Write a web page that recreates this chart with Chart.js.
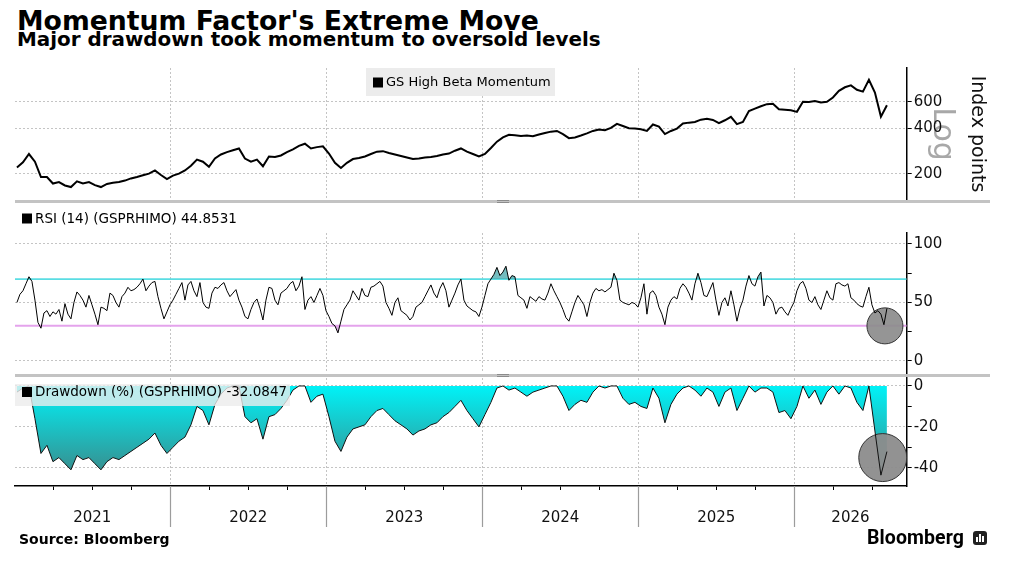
<!DOCTYPE html>
<html>
<head>
<meta charset="utf-8">
<script src="https://cdn.jsdelivr.net/npm/chart.js@4.4.1/dist/chart.umd.min.js"></script>
<style>
  html, body { margin: 0; padding: 0; background: #fff; }
  body { width: 1010px; height: 561px; position: relative; overflow: hidden; font-family: 'DejaVu Sans', sans-serif; color: #000; }
  .title { position: absolute; left: 17px; top: 5px; font-weight: bold; font-size: 26.7px; white-space: nowrap; }
  .subtitle { position: absolute; left: 17px; top: 28px; font-weight: bold; font-size: 19.9px; white-space: nowrap; }
  canvas { position: absolute; left: 0; }
  .sep { position: absolute; left: 15px; width: 975px; height: 3px; background: #c3c3c3; }
  .grip { position: absolute; left: 497px; width: 12px; height: 1px; border-top: 1px solid #8c8c8c; border-bottom: 1px solid #8c8c8c; }
  .source { position: absolute; left: 19px; top: 531px; font-weight: bold; font-size: 14px; }
  .brand { position: absolute; left: 867px; top: 526px; font-family: Roboto, sans-serif; font-weight: 700; font-size: 19.5px; letter-spacing: 0.1px; }
  .icon { position: absolute; left: 973px; top: 531px; width: 14px; height: 14px; background: #222; border-radius: 3px; }
  .icon i { position: absolute; bottom: 3px; width: 2px; background: #fff; }
</style>
</head>
<body>
<div class="title">Momentum Factor's Extreme Move</div>
<div class="subtitle">Major drawdown took momentum to oversold levels</div>

<canvas id="priceChart" width="1010" height="142" style="top:60px"></canvas>
<div class="sep" style="top:200px"></div>
<div class="grip" style="top:200px"></div>
<canvas id="rsiChart" width="1010" height="173" style="top:202px"></canvas>
<div class="sep" style="top:374px"></div>
<div class="grip" style="top:374px"></div>
<canvas id="ddChart" width="1010" height="185" style="top:376px"></canvas>

<div class="source">Source: Bloomberg</div>
<div class="brand">Bloomberg</div>
<div class="icon"><i style="left:3px;height:5px"></i><i style="left:6px;height:8px"></i><i style="left:9px;height:6px"></i></div>

<script>
// x values are decimal years; price and drawdown every 2 weeks, RSI weekly
const seriesStart = 2021.017
const biweekly = 0.03846
const weekly = 0.01923
const axisStart = 2021.0045
const axisEnd = 2026.7205

const yearBreaks = [2022, 2023, 2024, 2025, 2026]
const yearLabels = ['2021', '2022', '2023', '2024', '2025', '2026']
const yearLabelPos = [2021.5, 2022.5, 2023.5, 2024.5, 2025.5, 2026.36]

const priceTicks = [200, 400, 600]
const rsiTicks = [0, 25, 50, 75, 100]
const rsiLevels = [70, 30]
const ddTicks = [-40, -30, -20, -10, 0]

// GS High Beta Momentum, index points
const price = [
  220, 238, 270, 240, 190, 190, 172, 176, 167, 163,
  178, 172, 176, 168, 163, 171, 174, 176, 180, 186,
  190, 195, 200, 210, 196, 184, 194, 200, 210, 226,
  248, 240, 222, 252, 268, 278, 286, 294, 252, 240,
  248, 224, 260, 258, 264, 278, 290, 306, 316, 294,
  300, 304, 272, 236, 218, 236, 250, 254, 260, 270,
  280, 282, 274, 268, 262, 256, 250, 252, 256, 258,
  262, 268, 272, 284, 294, 280, 270, 260, 270, 296,
  326, 348, 362, 360, 356, 358, 354, 364, 372, 380,
  384, 366, 344, 348, 358, 370, 384, 392, 388, 402,
  428, 414, 400, 398, 394, 384, 424, 410, 366, 384,
  398, 430, 436, 440, 456, 462, 454, 432, 452, 476,
  426, 440, 520, 540, 560, 578, 582, 534, 530, 526,
  514, 600, 598, 606, 594, 600, 640, 708, 748, 770,
  720, 700, 838, 690, 478, 569
]

// RSI (14)
const rsi = [
  50, 57, 60, 66, 72, 68, 52, 33, 28, 41, 43, 38, 42, 40, 44,
  34, 49, 40, 36, 50, 59, 56, 52, 46, 56, 48, 40, 31, 46, 45,
  43, 58, 56, 50, 46, 55, 58, 63, 60, 61, 63, 66, 70, 60, 64,
  67, 68, 55, 45, 36, 42, 48, 52, 57, 62, 67, 52, 65, 68, 60,
  55, 67, 50, 46, 45, 58, 63, 62, 65, 67, 60, 55, 58, 61, 52,
  46, 38, 36, 44, 50, 53, 45, 35, 52, 63, 62, 52, 48, 58, 60,
  62, 66, 68, 60, 64, 72, 44, 52, 55, 50, 56, 62, 56, 43, 38,
  32, 30, 24, 34, 44, 48, 52, 60, 56, 52, 62, 56, 55, 63, 64,
  66, 68, 64, 50, 45, 39, 50, 54, 43, 41, 39, 35, 38, 46, 48,
  50, 55, 60, 65, 58, 54, 62, 67, 60, 46, 52, 58, 65, 70, 52,
  47, 45, 43, 42, 38, 46, 56, 66, 70, 74, 80, 73, 76, 81, 69,
  73, 72, 56, 54, 52, 45, 55, 53, 51, 55, 53, 52, 58, 66, 60,
  55, 50, 44, 37, 34, 42, 50, 56, 52, 48, 38, 50, 58, 62, 60,
  61, 59, 61, 63, 75, 69, 52, 50, 49, 48, 50, 49, 46, 54, 66,
  40, 58, 60, 56, 46, 40, 31, 46, 52, 55, 53, 62, 66, 63, 58,
  52, 66, 75, 67, 56, 55, 61, 67, 52, 39, 50, 54, 47, 60, 48,
  34, 45, 52, 64, 73, 66, 64, 72, 76, 47, 56, 54, 50, 40, 45,
  46, 42, 39, 45, 50, 60, 66, 68, 62, 52, 50, 55, 48, 44, 52,
  60, 54, 52, 66, 67, 65, 64, 66, 54, 52, 49, 47, 46, 55, 63,
  48, 41, 43, 40, 31, 44.8531
]

// Drawdown (%)
const drawdown = [
  -3, -1, 0, -16, -33, -29, -37, -35, -38, -41,
  -34, -36, -35, -38, -41, -37, -35, -36, -34, -32,
  -30, -28, -26, -23, -29, -33, -30, -27, -25, -19,
  -10, -12, -19, -9, -4, -1, 0, 0, -15, -18,
  -16, -26, -15, -14, -11, -7, -2, 0, 0, -8,
  -5, -4, -15, -27, -32, -25, -21, -20, -19, -15,
  -12, -11, -14, -17, -19, -21, -24, -22, -21, -19,
  -18, -15, -13, -10, -7, -12, -16, -20, -14, -8,
  -1, 0, -2, -1, -3, -5, -3, -2, -1, 0,
  0, -5, -12, -9, -7, -8, -3, 0, -1, 0,
  0, -6, -9, -8, -10, -11, -1, -6, -18, -9,
  -4, -1, 0, -2, -5, -1, -3, -10, -3, -1,
  -12, -6, 0, -3, -1, -1, -3, -13, -12, -16,
  -10, 0, -6, -2, -9, -3, 0, -4, 0, -1,
  -8, -12, 0, -22, -43.6, -32.0847
]

// highlighted oversold spots [x, y]
const rsiCircle = [2026.581, 30]
const ddCircle = [2026.567, -35]

const GRID = '#c4c4c4'
const toPoints = (vals, step) => vals.map((v, i) => ({ x: seriesStart + i * step, y: v }))

Chart.defaults.font.family = "'DejaVu Sans', sans-serif"
Chart.defaults.color = '#111'
Chart.defaults.animation = false
Chart.defaults.events = []
Chart.defaults.plugins.legend.display = false
Chart.defaults.plugins.tooltip.enabled = false

function rightAxis(scale) {
  scale.width = 1010 - 906.7
  scale.paddingTop = 0
  scale.paddingBottom = 0
}

function yearGrid() {
  return {
    type: 'linear',
    min: axisStart,
    max: axisEnd,
    afterBuildTicks: (s) => { s.ticks = yearBreaks.map((v) => ({ value: v })) },
    ticks: { display: false },
    grid: { color: GRID, drawTicks: false },
    border: { display: false, dash: [2, 2] },
    afterFit: (s) => { s.height = 0; s.paddingLeft = 0; s.paddingRight = 0 },
  }
}

function legendBox(cfg) {
  return {
    id: 'legendBox',
    afterDraw(chart) {
      const c = chart.ctx
      c.save()
      if (cfg.box) {
        c.fillStyle = cfg.bg
        c.fillRect(cfg.box[0], cfg.box[1], cfg.box[2], cfg.box[3])
      }
      c.fillStyle = '#000'
      c.fillRect(cfg.at[0], cfg.at[1] - 5, 10, 10)
      c.font = (cfg.size || 13.5) + "px 'DejaVu Sans'"
      c.textBaseline = 'middle'
      c.fillText(cfg.text, cfg.at[0] + 13, cfg.at[1] + 0.5)
      c.restore()
    },
  }
}

const logLabel = {
  id: 'logLabel',
  beforeDraw(chart) {
    const { ctx, chartArea } = chart
    ctx.save()
    ctx.translate(chartArea.right + 35, (chartArea.top + chartArea.bottom) / 2)
    ctx.rotate(Math.PI / 2)
    ctx.font = "30px 'DejaVu Sans'"
    ctx.fillStyle = '#a8a8a8'
    ctx.textAlign = 'center'
    ctx.textBaseline = 'middle'
    ctx.fillText('Log', 0, 0)
    ctx.restore()
  },
}

const yearDividers = {
  id: 'yearDividers',
  afterDraw(chart) {
    const { ctx, chartArea, scales } = chart
    ctx.save()
    ctx.strokeStyle = '#9c9c9c'
    ctx.lineWidth = 1.2
    yearBreaks.forEach((yr) => {
      const px = Math.round(scales.x.getPixelForValue(yr)) + 0.5
      ctx.beginPath()
      ctx.moveTo(px, chartArea.bottom)
      ctx.lineTo(px, chartArea.bottom + 41)
      ctx.stroke()
    })
    ctx.restore()
  },
}

// price panel
new Chart(document.getElementById('priceChart'), {
  type: 'line',
  data: {
    datasets: [
      { data: toPoints(price, biweekly), borderColor: '#000', borderWidth: 2, pointRadius: 0 },
    ],
  },
  options: {
    responsive: false,
    layout: { autoPadding: false, padding: { left: 15, top: 8, right: 0, bottom: 2 } },
    scales: {
      x: yearGrid(),
      y: {
        type: 'logarithmic',
        position: 'right',
        min: 133.8,
        max: 1004,
        afterBuildTicks: (s) => { s.ticks = priceTicks.map((v) => ({ value: v })) },
        ticks: { callback: (v) => String(v), font: { size: 15 }, padding: 2, autoSkip: false },
        grid: { color: GRID, tickColor: '#000', tickLength: 5 },
        border: { color: '#000', width: 1.5, dash: [2, 2] },
        title: { display: true, text: 'Index points', font: { size: 19 }, padding: { top: 22, bottom: 0 } },
        afterFit: rightAxis,
      },
    },
  },
  plugins: [logLabel, legendBox({ text: 'GS High Beta Momentum', size: 13, box: [366, 8, 189, 28], bg: '#ececec', at: [373, 22.5] })],
})

// RSI panel
const rsiPoints = toPoints(rsi, weekly)
const levelLine = (lvl) => [{ x: axisStart, y: lvl }, { x: axisEnd, y: lvl }]

new Chart(document.getElementById('rsiChart'), {
  type: 'line',
  data: {
    datasets: [
      {
        data: rsiPoints, borderColor: '#000', borderWidth: 1, pointRadius: 0, order: 1,
        fill: { target: { value: rsiLevels[0] }, above: 'rgba(70,165,170,0.75)', below: 'transparent' },
      },
      {
        data: rsiPoints, borderColor: 'transparent', borderWidth: 0, pointRadius: 0, order: 5,
        fill: { target: { value: rsiLevels[1] }, above: 'transparent', below: 'rgba(190,120,205,0.6)' },
      },
      { data: levelLine(rsiLevels[0]), borderColor: '#5adde3', borderWidth: 1.6, pointRadius: 0, order: 4 },
      { data: levelLine(rsiLevels[1]), borderColor: '#e4a3ec', borderWidth: 2, pointRadius: 0, order: 4 },
      {
        type: 'bubble', order: 2,
        data: [{ x: rsiCircle[0], y: rsiCircle[1], r: 18 }],
        backgroundColor: 'rgba(140,140,140,0.92)', borderColor: '#333', borderWidth: 1,
      },
    ],
  },
  options: {
    responsive: false,
    layout: { autoPadding: false, padding: { left: 15, top: 31, right: 0, bottom: 2 } },
    scales: {
      x: yearGrid(),
      y: {
        position: 'right',
        min: -10.3,
        max: 109.4,
        afterBuildTicks: (s) => { s.ticks = rsiTicks.map((v) => ({ value: v })) },
        ticks: { callback: (v) => (v % 50 === 0 ? String(v) : ''), font: { size: 15 }, padding: 2, autoSkip: false },
        grid: {
          color: (ctx) => (ctx.tick && ctx.tick.value % 50 === 0 ? GRID : 'transparent'),
          tickColor: '#000', tickLength: 5,
        },
        border: { color: '#000', width: 1.5, dash: [2, 2] },
        afterFit: rightAxis,
      },
    },
  },
  plugins: [legendBox({ text: 'RSI (14) (GSPRHIMO) 44.8531', at: [22, 16.5] })],
})

// drawdown panel
const ddPoints = toPoints(drawdown, biweekly)
const quarterTicks = []
for (let k = 1; k <= 22; k++) quarterTicks.push(2021 + k * 0.25)

new Chart(document.getElementById('ddChart'), {
  type: 'line',
  data: {
    datasets: [
      {
        data: ddPoints, borderColor: 'transparent', borderWidth: 0, pointRadius: 0, order: 5, fill: 'origin',
        backgroundColor: (ctx) => {
          const { chart } = ctx
          if (!chart.chartArea) return '#00e8ee'
          const y = chart.scales.y
          const g = chart.ctx.createLinearGradient(0, y.getPixelForValue(0), 0, y.getPixelForValue(-44))
          g.addColorStop(0, '#00f2f7')
          g.addColorStop(1, '#3a8a8a')
          return g
        },
      },
      {
        type: 'bubble', order: 2,
        data: [{ x: ddCircle[0], y: ddCircle[1], r: 24 }],
        backgroundColor: 'rgba(140,140,140,0.95)', borderColor: '#333', borderWidth: 1,
      },
      { data: ddPoints, borderColor: '#111', borderWidth: 1, pointRadius: 0, fill: false, order: 1 },
    ],
  },
  options: {
    responsive: false,
    layout: { autoPadding: false, padding: { left: 15, top: 2, right: 0, bottom: 0 } },
    scales: {
      x: {
        type: 'linear',
        min: axisStart,
        max: axisEnd,
        afterBuildTicks: (s) => {
          s.ticks = quarterTicks.concat([yearLabelPos[5]]).sort((a, b) => a - b).map((v) => ({ value: v }))
        },
        ticks: {
          callback: (v) => { const i = yearLabelPos.indexOf(v); return i >= 0 ? yearLabels[i] : '' },
          font: { size: 15 }, padding: 19, autoSkip: false, maxRotation: 0, color: '#111',
        },
        grid: {
          color: (ctx) => (ctx.tick && Number.isInteger(ctx.tick.value) ? GRID : 'transparent'),
          tickColor: (ctx) => {
            const v = ctx.tick ? ctx.tick.value : 0
            return Number.isInteger(v) || v === yearLabelPos[5] ? 'transparent' : '#000'
          },
          tickLength: 4,
        },
        border: { color: '#000', width: 1.5, dash: [2, 2] },
        afterFit: (s) => { s.height = 75; s.paddingLeft = 0; s.paddingRight = 0 },
      },
      y: {
        position: 'right',
        min: -48.9,
        max: 3.9,
        afterBuildTicks: (s) => { s.ticks = ddTicks.map((v) => ({ value: v })) },
        ticks: { callback: (v) => (v % 20 === 0 ? String(v) : ''), font: { size: 15 }, padding: 2, autoSkip: false },
        grid: {
          color: (ctx) => (ctx.tick && ctx.tick.value % 20 === 0 ? GRID : 'transparent'),
          tickColor: '#000', tickLength: 5,
        },
        border: { color: '#000', width: 1.5, dash: [2, 2] },
        afterFit: rightAxis,
      },
    },
  },
  plugins: [
    yearDividers,
    legendBox({ text: 'Drawdown (%) (GSPRHIMO) -32.0847', box: [15, 8, 275, 22], bg: 'rgba(236,236,236,0.8)', at: [22, 16] }),
  ],
})
</script>
</body>
</html>
